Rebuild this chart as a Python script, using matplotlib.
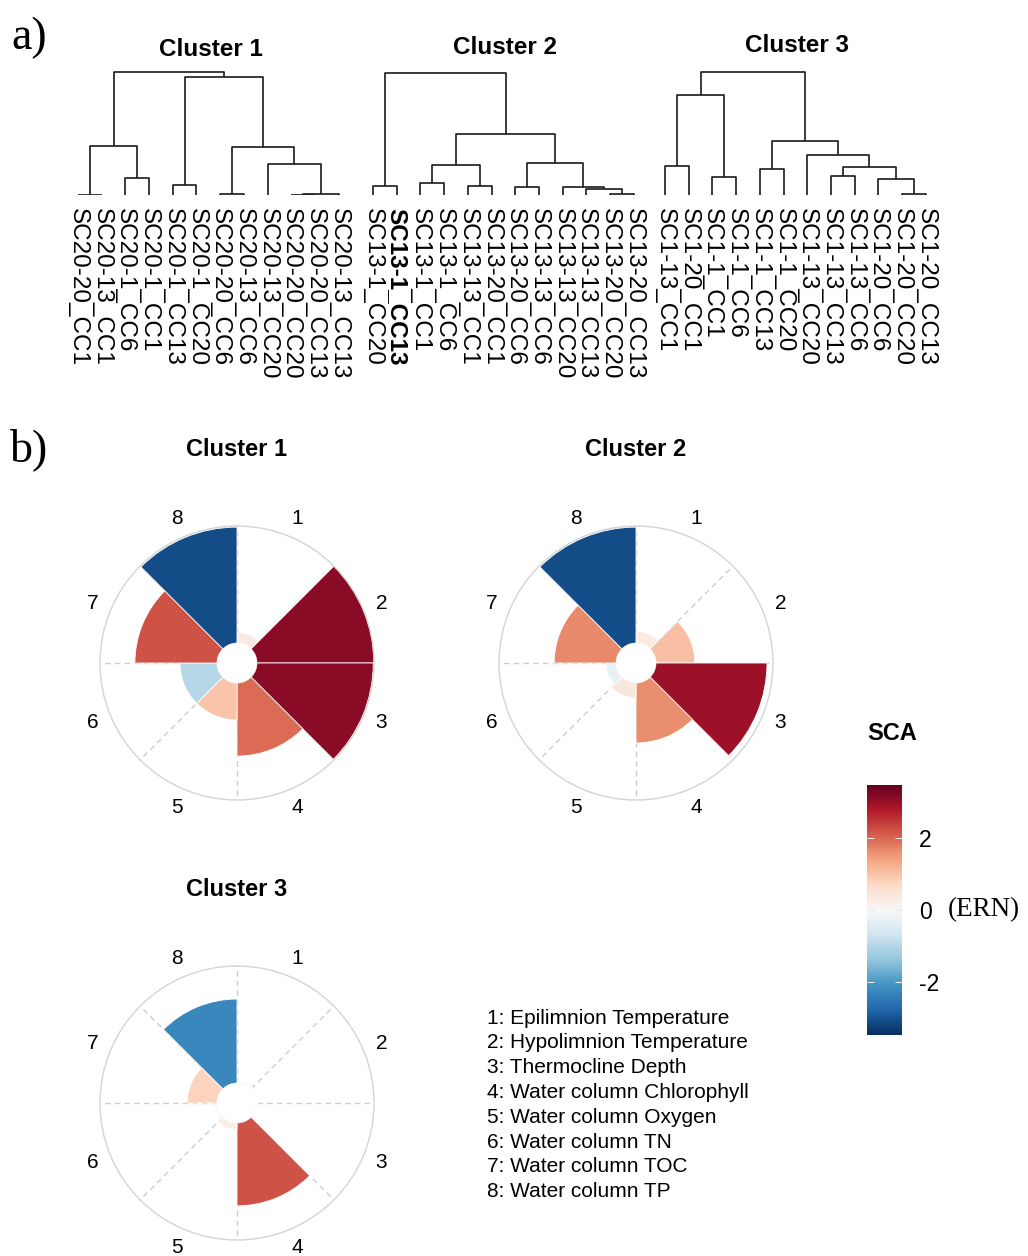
import numpy as np
import matplotlib
matplotlib.use('Agg')
import matplotlib.pyplot as plt
from matplotlib.colors import Normalize
from matplotlib.cm import ScalarMappable
from matplotlib import transforms

plt.rcParams['font.family'] = ['Liberation Sans', 'DejaVu Sans']

W, H = 1028, 1256

# ---- data: dendrograms (leaf order + merges as (left, right, height)) ----
leaves1 = ['SC20-20_CC1', 'SC20-13_CC1', 'SC20-1_CC6', 'SC20-1_CC1', 'SC20-1_CC13', 'SC20-1_CC20',
           'SC20-20_CC6', 'SC20-13_CC6', 'SC20-13_CC20', 'SC20-20_CC20', 'SC20-20_CC13', 'SC20-13_CC13']
merges1 = [(0, 1, 0.0), (2, 3, 1.7), (12, 13, 4.9), (4, 5, 1.0), (6, 7, 0.1), (9, 10, 0.05),
           (17, 11, 0.08), (8, 18, 3.1), (16, 19, 4.8), (15, 20, 11.8), (14, 21, 12.3)]

leaves2 = ['SC13-1_CC20', 'SC13-1_CC13', 'SC13-1_CC1', 'SC13-1_CC6', 'SC13-13_CC1', 'SC13-20_CC1',
           'SC13-20_CC6', 'SC13-13_CC6', 'SC13-13_CC20', 'SC13-13_CC13', 'SC13-20_CC20', 'SC13-20_CC13']
merges2 = [(0, 1, 0.9), (2, 3, 1.2), (4, 5, 0.9), (13, 14, 3.0), (6, 7, 0.8), (10, 11, 0.1),
           (9, 17, 0.6), (8, 18, 0.8), (16, 19, 3.2), (15, 20, 6.1), (12, 21, 12.2)]

leaves3 = ['SC1-13_CC1', 'SC1-20_CC1', 'SC1-1_CC1', 'SC1-1_CC6', 'SC1-1_CC13', 'SC1-1_CC20',
           'SC1-13_CC20', 'SC1-13_CC13', 'SC1-13_CC6', 'SC1-20_CC6', 'SC1-20_CC20', 'SC1-20_CC13']
merges3 = [(0, 1, 2.9), (2, 3, 1.8), (12, 13, 10.0), (4, 5, 2.6), (7, 8, 1.9), (10, 11, 0.1),
           (9, 17, 1.6), (16, 18, 2.8), (6, 19, 4.0), (15, 20, 5.4), (14, 21, 12.3)]

bold_leaf = 'SC13-1_CC13'

# ---- data: SCA per variable (1..8) for each cluster ----
variables = ['1: Epilimnion Temperature', '2: Hypolimnion Temperature', '3: Thermocline Depth',
             '4: Water column Chlorophyll', '5: Water column Oxygen', '6: Water column TN',
             '7: Water column TOC', '8: Water column TP']
sca1 = [0.29, 3.12, 3.10, 1.95, 0.99, -0.99, 2.19, -3.09]
sca2 = [0.32, 1.04, 2.96, 1.60, 0.40, -0.27, 1.65, -3.09]
sca3 = [0.05, 0.03, 0.03, 2.21, 0.19, -0.06, 0.80, -2.24]

cmap = plt.get_cmap('RdBu_r')
norm = Normalize(-3.45, 3.45)


def box(l, t, w, h):
    return [l / W, 1 - (t + h) / H, w / W, h / H]


def draw_dendro(ax, leaves, merges):
    n = len(leaves)
    xs = list(range(n))
    hs = [0.0] * n
    for a, b, h in merges:
        ax.plot([xs[a], xs[a], xs[b], xs[b]], [hs[a], h, h, hs[b]], color='#1a1a1a', lw=1.2,
                solid_capstyle='butt')
        xs.append((xs[a] + xs[b]) / 2)
        hs.append(h)
    ax.set_xlim(-0.5, n - 0.5)
    ax.set_ylim(0, 12.5)
    ax.axis('off')
    tr = transforms.blended_transform_factory(ax.transData, ax.transAxes)
    for i, lab in enumerate(leaves):
        ax.text(i, -0.1, lab, rotation=-90, ha='center', va='top', fontsize=17.5, transform=tr,
                fontweight='bold' if lab == bold_leaf else 'normal', clip_on=False)


def draw_rose(ax, vals):
    theta = (np.arange(8) + 0.5) * np.pi / 4
    v = np.array(vals)
    ax.set_theta_zero_location('N')
    ax.set_theta_direction(-1)
    ax.set_axisbelow(True)
    ax.bar(theta, np.abs(v), width=np.pi / 4, bottom=0, color=cmap(norm(v)),
           edgecolor='white', linewidth=0.6, zorder=2)
    ax.set_ylim(0, 3.12)
    ax.set_rorigin(-0.53)
    ax.set_yticks([])
    ax.set_xticks(theta)
    ax.set_xticklabels([str(i + 1) for i in range(8)], fontsize=15)
    ax.set_xticks(np.arange(8) * np.pi / 4, minor=True)
    ax.xaxis.grid(False, which='major')
    ax.xaxis.grid(True, which='minor', color='#cccccc', lw=1.0, ls=(0, (4, 3)))
    ax.tick_params(axis='x', which='major', direction='in', length=4, color='#cccccc', pad=7)
    ax.tick_params(axis='x', which='minor', length=0)
    ax.spines['polar'].set_color('#d4d4d4')
    ax.spines['polar'].set_linewidth(1.0)
    ax.spines['inner'].set_linewidth(0)
    ax.spines['inner'].set_color('none')


fig = plt.figure(figsize=(W / 100, H / 100), dpi=100)

# a) dendrograms
sp = 23.7
for left0, leaves, merges in [(78, leaves1, merges1), (373, leaves2, merges2), (665, leaves3, merges3)]:
    ax = fig.add_axes(box(left0 - sp / 2, 70, sp * 12, 125))
    draw_dendro(ax, leaves, merges)

for x, y, t in [(211, 49, 'Cluster 1'), (505, 48, 'Cluster 2'), (797, 46, 'Cluster 3')]:
    fig.text(x / W, 1 - y / H, t, ha='center', va='center', fontsize=17.5, fontweight='bold')

fig.text(29 / W, 1 - 38 / H, 'a)', ha='center', va='center', fontsize=33, family='Liberation Serif')
fig.text(29 / W, 1 - 450 / H, 'b)', ha='center', va='center', fontsize=33, family='Liberation Serif')

# b) rose charts
R = 137
for (cx, cy), vals, t in [((237, 663), sca1, 'Cluster 1'), ((636, 663), sca2, 'Cluster 2'),
                          ((237, 1103), sca3, 'Cluster 3')]:
    ax = fig.add_axes(box(cx - R, cy - R, 2 * R, 2 * R), projection='polar')
    draw_rose(ax, vals)
    fig.text(cx / W, 1 - (cy - 213) / H, t, ha='center', va='center', fontsize=17, fontweight='bold')

# colour bar
cax = fig.add_axes(box(867, 785, 35, 250))
cb = fig.colorbar(ScalarMappable(norm=norm, cmap=cmap), cax=cax, ticks=[-2, 0, 2])
cb.outline.set_visible(False)
cb.set_ticklabels(['-2', '0', '2'])
cax.tick_params(direction='in', color='#e8e8e8', length=5, width=0.8, left=True, right=True,
                labelsize=16.5, pad=12)
fig.text(867 / W, 1 - 733 / H, 'SCA', ha='left', va='center', fontsize=17, fontweight='bold')
fig.text(948 / W, 1 - 910 / H, '(ERN)', ha='left', va='center', fontsize=19.5, family='Liberation Serif')

# variable key
for i, lab in enumerate(variables):
    fig.text(487 / W, 1 - (1018 + 24.8 * i) / H, lab, ha='left', va='center', fontsize=15)

fig.savefig('out.png', dpi=100)
